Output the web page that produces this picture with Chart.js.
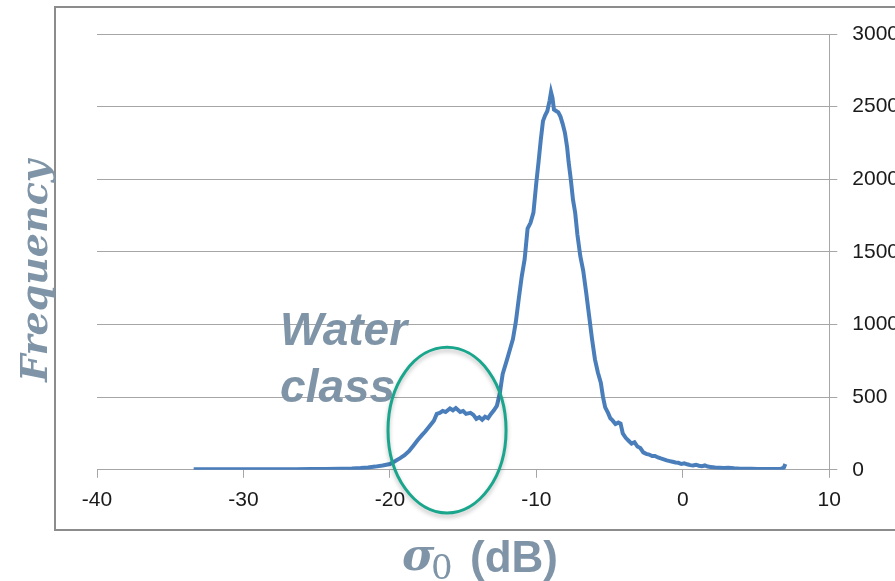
<!DOCTYPE html>
<html>
<head>
<meta charset="utf-8">
<script src="https://cdn.jsdelivr.net/npm/chart.js@4.4.1/dist/chart.umd.min.js"></script>
<style>
    html, body { margin: 0; padding: 0; background: #fff; overflow: hidden; }
    #frame {
        position: absolute; left: 54px; top: 6px; width: 900px; height: 525px;
        border: 2px solid #8c8c8c; box-sizing: border-box;
    }
    #histChart { position: absolute; left: 0; top: 0; }
</style>
</head>
<body>
<div id="frame"></div>
<canvas id="histChart" width="920" height="581"></canvas>
<script>
// sigma0 (dB) bins and their counts
const sigma0 = [
    -33.4, -32.4, -31.4, -30.4, -29.4, -28.4, -27.4, -26.4, -25.4, -24.4, -23.4, -22.6, -22.0, -21.5,
    -21.0, -20.5, -20.0, -19.6, -19.3, -19.0, -18.7, -18.4, -18.1, -17.8, -17.6, -17.3, -17.0, -16.8,
    -16.6, -16.4, -16.2, -15.9, -15.7, -15.5, -15.2, -15.0, -14.8, -14.5, -14.3, -14.1, -13.9, -13.7,
    -13.5, -13.3, -13.1, -12.9, -12.7, -12.5, -12.3, -12.0, -11.8, -11.6, -11.4, -11.2, -11.0, -10.8,
    -10.6, -10.4, -10.2, -10.0, -9.85, -9.7, -9.55, -9.4, -9.25, -9.1, -9.0, -8.9, -8.8, -8.65, -8.5,
    -8.35, -8.2, -8.05, -7.9, -7.8, -7.65, -7.5, -7.35, -7.2, -7.0, -6.8, -6.6, -6.4, -6.2, -6.0, -5.8,
    -5.6, -5.45, -5.3, -5.1, -4.95, -4.8, -4.6, -4.4, -4.25, -4.1, -3.9, -3.7, -3.5, -3.3, -3.1, -2.9,
    -2.7, -2.5, -2.3, -2.1, -1.9, -1.7, -1.5, -1.3, -1.1, -0.9, -0.7, -0.5, -0.3, -0.1, 0.1, 0.3, 0.5,
    0.7, 0.9, 1.1, 1.3, 1.5, 1.7, 1.9, 2.2, 2.5, 2.8, 3.1, 3.5, 3.9, 4.3, 4.7, 5.1, 5.5, 5.9, 6.3,
    6.7, 6.9, 7.0,
];
const frequency = [
    3, 3, 3, 3, 3, 4, 4, 4, 5, 5, 7, 9, 12, 16,
    22, 30, 40, 62, 80, 100, 128, 166, 205, 240, 262, 300, 338, 385,
    392, 405, 398, 422, 410, 425, 398, 405, 385, 392, 378, 350, 362, 345,
    365, 355, 385, 410, 440, 525, 660, 760, 830, 900, 1020, 1180, 1330, 1450,
    1660, 1700, 1770, 1980, 2120, 2270, 2400, 2440, 2470, 2540, 2600, 2560, 2480, 2470, 2460,
    2430, 2380, 2320, 2220, 2120, 2000, 1860, 1770, 1620, 1470, 1370, 1220, 1060, 900, 760, 670,
    600, 500, 430, 390, 355, 340, 315, 325, 318, 250, 220, 200, 180, 190, 160, 150,
    120, 110, 105, 95, 95, 85, 78, 72, 65, 60, 55, 50, 48, 40, 45, 38, 32,
    30, 35, 28, 25, 30, 22, 20, 16, 14, 12, 14, 10, 8, 8, 7, 6, 6, 5, 5,
    6, 15, 40,
];
const xTicks = [-40, -30, -20, -10, 0, 10];
const yTicks = [0, 500, 1000, 1500, 2000, 2500, 3000];

const titleColor = "#7f95a7";
const gridColor = "#a6a6a6";

// "Water class" ellipse and labels, in data units
const waterEllipse = { x: -16.1, y: 273, rx: 4.03, ry: 570 };
const waterLabel = { x: -27.5, lines: [["Water", 856], ["class", 470]] };

const annotations = {
    id: "annotations",
    afterDatasetsDraw(chart) {
        const ctx = chart.ctx;
        const xs = chart.scales.x;
        const ys = chart.scales.y;

        // water class text
        ctx.save();
        ctx.fillStyle = titleColor;
        ctx.font = "italic bold 46px 'Liberation Sans', Arial, sans-serif";
        ctx.textBaseline = "alphabetic";
        ctx.textAlign = "left";
        waterLabel.lines.forEach(function (l) {
            ctx.fillText(l[0], xs.getPixelForValue(waterLabel.x), ys.getPixelForValue(l[1]));
        });
        ctx.restore();

        // ellipse
        const cx = xs.getPixelForValue(waterEllipse.x);
        const cy = ys.getPixelForValue(waterEllipse.y);
        const rx = Math.abs(xs.getPixelForValue(waterEllipse.x + waterEllipse.rx) - cx);
        const ry = Math.abs(ys.getPixelForValue(waterEllipse.y + waterEllipse.ry) - cy);
        ctx.save();
        ctx.strokeStyle = "#19a68c";
        ctx.lineWidth = 3;
        ctx.shadowColor = "rgba(0,0,0,0.25)";
        ctx.shadowBlur = 4;
        ctx.shadowOffsetY = 3;
        ctx.beginPath();
        ctx.ellipse(cx, cy, rx, ry, 0, 0, Math.PI * 2);
        ctx.stroke();
        ctx.restore();

        // axis titles
        ctx.save();
        ctx.fillStyle = titleColor;
        ctx.translate(37, 271);
        ctx.rotate(-Math.PI / 2);
        ctx.textAlign = "center";
        ctx.textBaseline = "middle";
        ctx.font = "italic bold 38px 'DejaVu Serif', serif";
        ctx.fillText("Frequency", 0, 0);
        ctx.restore();

        ctx.save();
        ctx.fillStyle = titleColor;
        ctx.textAlign = "left";
        ctx.textBaseline = "alphabetic";
        ctx.font = "italic bold 44px 'DejaVu Serif', serif";
        ctx.fillText("σ", 402, 570);
        ctx.font = "34px 'DejaVu Serif', serif";
        ctx.fillText("0", 431, 579);
        ctx.font = "bold 44px 'Liberation Sans', Arial, sans-serif";
        ctx.fillText("(dB)", 470, 572);
        ctx.restore();
    },
};

document.addEventListener("DOMContentLoaded", function () {
    const ctx = document.getElementById("histChart");
    if (!ctx) return;

    new Chart(ctx, {
        type: "line",
        data: {
            datasets: [
                {
                    label: "Frequency",
                    data: sigma0.map(function (v, i) {
                        return { x: v, y: frequency[i] };
                    }),
                    borderColor: "#4a7ebb",
                    borderWidth: 4,
                    pointRadius: 0,
                    tension: 0,
                    fill: false,
                },
            ],
        },
        options: {
            responsive: false,
            animation: false,
            devicePixelRatio: 1,
            layout: {
                padding: { left: 97, right: 6, top: 34, bottom: 58 },
            },
            plugins: {
                legend: { display: false },
                tooltip: { enabled: false },
            },
            scales: {
                x: {
                    type: "linear",
                    min: xTicks[0],
                    max: xTicks[xTicks.length - 1],
                    afterBuildTicks: function (axis) {
                        axis.ticks = xTicks.map(function (v) { return { value: v }; });
                    },
                    grid: {
                        drawOnChartArea: false,
                        drawTicks: true,
                        tickLength: 8,
                        color: gridColor,
                    },
                    border: { color: gridColor, width: 1 },
                    ticks: {
                        padding: 10,
                        color: "#1a1a1a",
                        font: { family: "'Liberation Sans', Arial, sans-serif", size: 21 },
                        callback: function (v) { return String(v); },
                    },
                },
                y: {
                    position: "right",
                    min: yTicks[0],
                    max: yTicks[yTicks.length - 1],
                    afterBuildTicks: function (axis) {
                        axis.ticks = yTicks.map(function (v) { return { value: v }; });
                    },
                    grid: {
                        drawTicks: true,
                        tickLength: 8,
                        color: gridColor,
                    },
                    border: { color: gridColor, width: 1 },
                    ticks: {
                        padding: 15,
                        color: "#1a1a1a",
                        font: { family: "'Liberation Sans', Arial, sans-serif", size: 21 },
                        callback: function (v) { return String(v); },
                    },
                },
            },
        },
        plugins: [annotations],
    });
});
</script>
</body>
</html>
